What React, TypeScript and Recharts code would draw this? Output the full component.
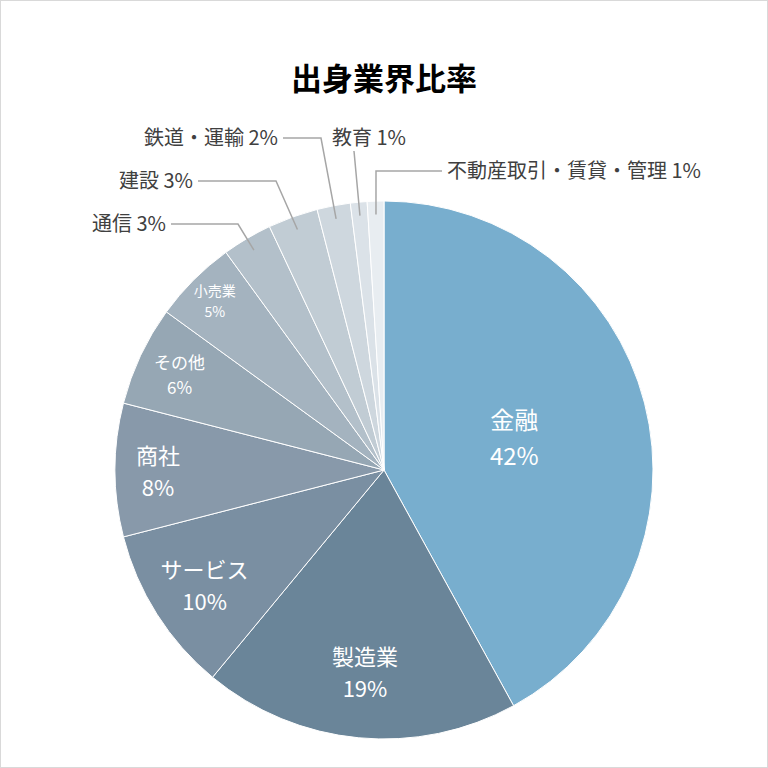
import React from 'react'
import { PieChart, Pie, Cell } from 'recharts'

const industries = [
  '金融',
  '製造業',
  'サービス',
  '商社',
  'その他',
  '小売業',
  '通信',
  '建設',
  '鉄道・運輸',
  '教育',
  '不動産取引・賃貸・管理',
]
const shares = [42, 19, 10, 8, 6, 5, 3, 3, 2, 1, 1]

const COLORS = [
  '#78AECE',
  '#6A8599',
  '#7A8FA2',
  '#8899AA',
  '#96A7B4',
  '#A4B3BF',
  '#B3C0CA',
  '#C1CCD4',
  '#CED7DE',
  '#DBE2E8',
  '#E8EDF1',
]

const data = industries.map((name, i) => ({ name, value: shares[i] }))

const RAD = Math.PI / 180
const FONT = '"Noto Sans CJK JP", "Noto Sans", sans-serif'

// inside labels: radius fraction and font size
const inside: Record<number, { r: number; size: number }> = {
  0: { r: 0.5, size: 24 },
  1: { r: 0.75, size: 22 },
  2: { r: 0.79, size: 22 },
  3: { r: 0.84, size: 22 },
  4: { r: 0.84, size: 17 },
  5: { r: 0.89, size: 14 },
}

// outside labels: elbow point, text anchor point
const outside: Record<number, { ex: number; ey: number; tx: number; ty: number; anchor: 'start' | 'end' | 'middle'; dir: 'h' | 'v' }> = {
  6: { ex: 237, ey: 223, tx: 165, ty: 223, anchor: 'end', dir: 'h' },
  7: { ex: 275, ey: 180, tx: 192, ty: 180, anchor: 'end', dir: 'h' },
  8: { ex: 320, ey: 137, tx: 277, ty: 137, anchor: 'end', dir: 'h' },
  9: { ex: 353, ey: 150, tx: 368, ty: 137, anchor: 'middle', dir: 'v' },
  10: { ex: 375, ey: 170, tx: 446, ty: 170, anchor: 'start', dir: 'h' },
}

function renderLabel(props: any) {
  const { cx, cy, midAngle, outerRadius, index, name, value } = props
  const cos = Math.cos(-midAngle * RAD)
  const sin = Math.sin(-midAngle * RAD)
  const ins = inside[index]
  if (ins) {
    const x = cx + outerRadius * ins.r * cos
    const y = cy + outerRadius * ins.r * sin
    const half = ins.size * 0.74
    return (
      <g>
        <text
          x={x}
          y={y - half}
          fill="#FFFFFF"
          textAnchor="middle"
          dominantBaseline="central"
          fontSize={ins.size}
          fontFamily={FONT}
        >
          {name}
        </text>
        <text
          x={x}
          y={y + half}
          fill="#FFFFFF"
          textAnchor="middle"
          dominantBaseline="central"
          fontSize={ins.size}
          fontFamily={FONT}
        >
          {`${value}%`}
        </text>
      </g>
    )
  }
  const o = outside[index]
  const sx = cx + outerRadius * 0.95 * cos
  const sy = cy + outerRadius * 0.95 * sin
  const lineEnd =
    o.dir === 'h'
      ? `${o.anchor === 'end' ? o.tx + 5 : o.tx - 5},${o.ey}`
      : `${o.ex},${o.ty + 14}`
  return (
    <g>
      <polyline
        points={`${sx},${sy} ${o.ex},${o.ey} ${lineEnd}`}
        fill="none"
        stroke="#A6A6A6"
        strokeWidth={1.5}
      />
      <text
        x={o.tx}
        y={o.ty + 7}
        fill="#404040"
        textAnchor={o.anchor}
        fontSize={20}
        fontFamily={FONT}
      >
        {`${name} ${value}%`}
      </text>
    </g>
  )
}

export default function App() {
  return (
    <div
      style={{
        position: 'absolute',
        left: 0,
        top: 0,
        width: 766,
        height: 766,
        border: '1px solid #D9D9D9',
        background: '#FFFFFF',
      }}
    >
      <div
        style={{
          position: 'absolute',
          top: 55,
          width: '100%',
          textAlign: 'center',
          fontFamily: FONT,
          fontWeight: 'bold',
          fontSize: 31,
          color: '#000000',
          lineHeight: '42px',
        }}
      >
        出身業界比率
      </div>
      <PieChart width={766} height={766} margin={{ top: 0, right: 0, bottom: 0, left: 0 }}>
        <Pie
          data={data}
          dataKey="value"
          nameKey="name"
          cx={383}
          cy={469}
          outerRadius={269}
          startAngle={90}
          endAngle={-270}
          stroke="#FFFFFF"
          strokeWidth={1}
          label={renderLabel}
          labelLine={false}
          isAnimationActive={false}
        >
          {data.map((_, i) => (
            <Cell key={i} fill={COLORS[i]} />
          ))}
        </Pie>
      </PieChart>
    </div>
  )
}
